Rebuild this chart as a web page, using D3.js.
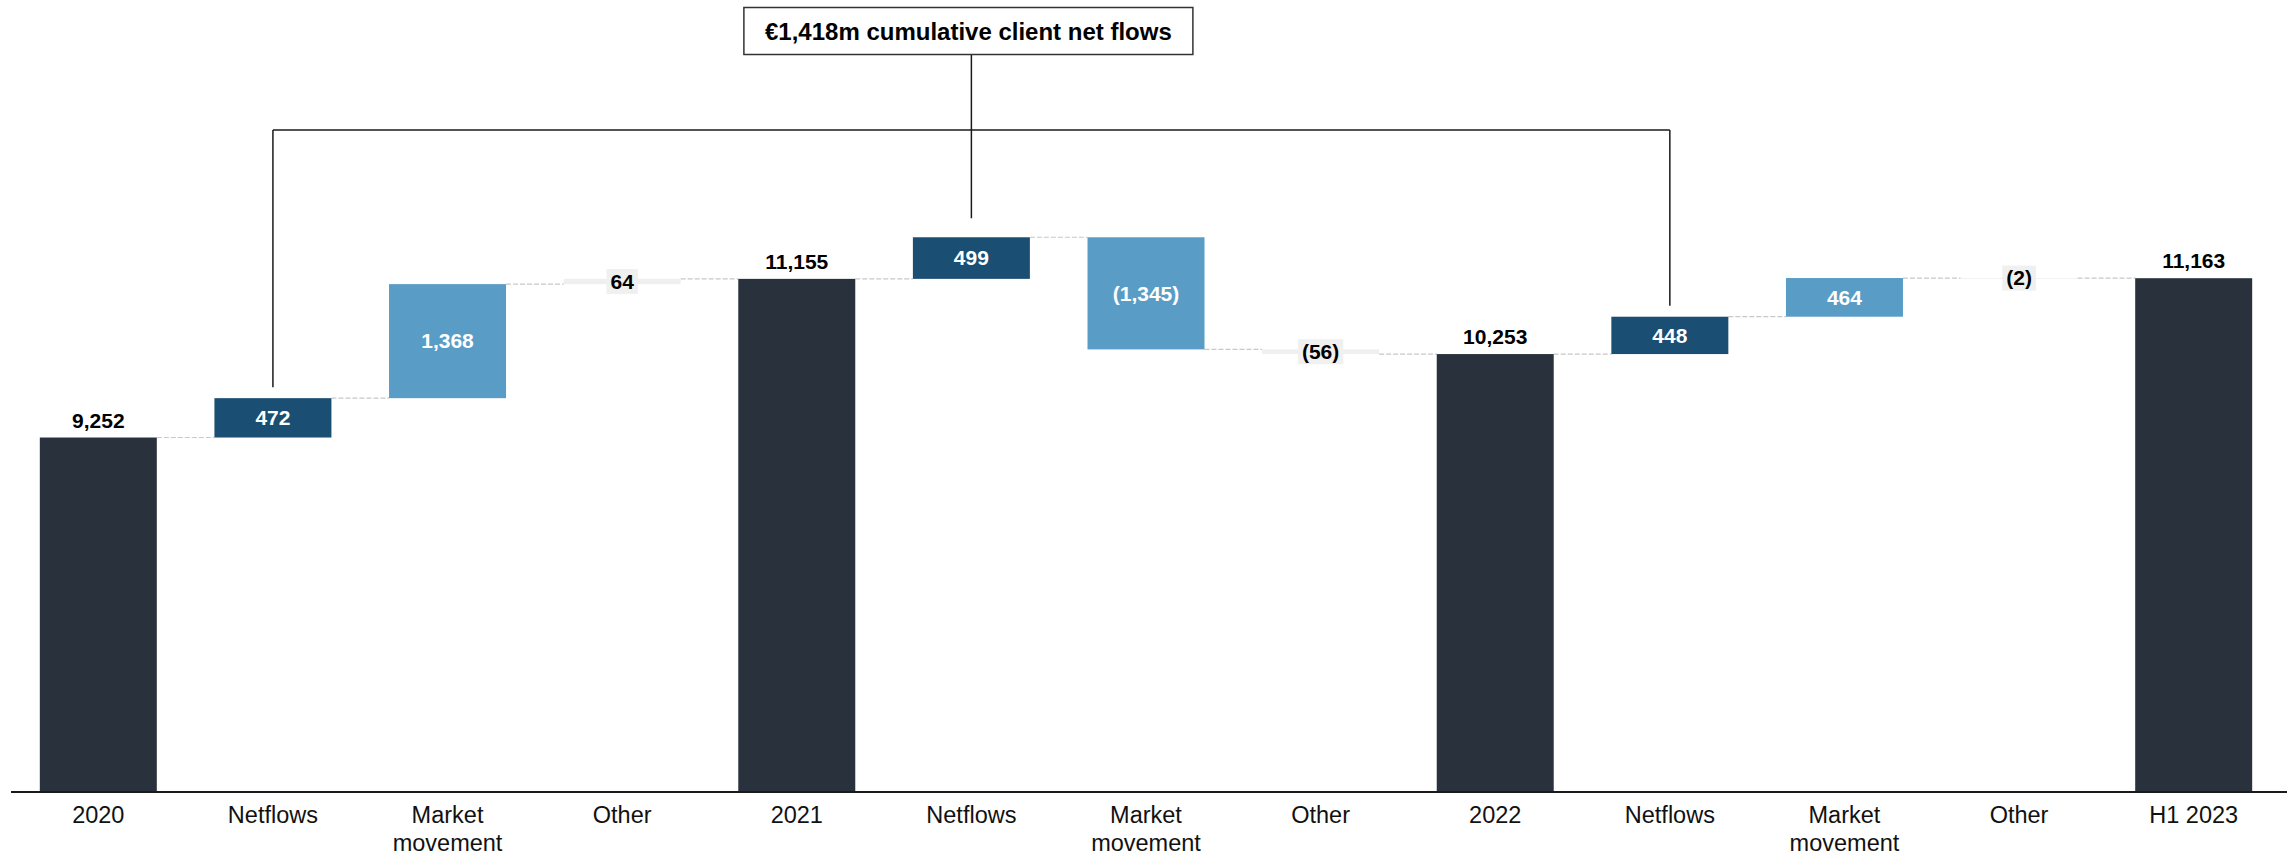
<!DOCTYPE html>
<html>
<head>
<meta charset="utf-8">
<script src="https://cdn.jsdelivr.net/npm/d3@7"></script>
<style>
  html, body { margin: 0; padding: 0; background: #fff; }
  svg { display: block; font-family: "Liberation Sans", Arial, sans-serif; }
</style>
</head>
<body>
<svg id="chart" width="2287" height="856"></svg>
<script>
// ---- data ----
const categories = ["2020", "Netflows", "Market\nmovement", "Other", "2021", "Netflows", "Market\nmovement", "Other", "2022", "Netflows", "Market\nmovement", "Other", "H1 2023"];
const values = [9252, 472, 1368, 64, 11155, 499, -1345, -56, 10253, 448, 464, -2, 11163];
const kinds = ["total", "netflows", "market", "other", "total", "netflows", "market", "other", "total", "netflows", "market", "other", "total"];
const annotationText = "€1,418m cumulative client net flows";
const bracketIndices = [1, 5, 9];

// ---- layout ----
const W = 2287, H = 856;
const baseY = 792;
const colors = { total: "#29323c", netflows: "#1a4e72", market: "#599dc6", other: "#efefef" };

const svg = d3.select("#chart");

const x = d3.scaleBand()
  .domain(d3.range(categories.length))
  .range([11, 2281])
  .paddingInner(0.33)
  .paddingOuter(0.165);

const y = d3.scaleLinear().domain([5000, 14500]).range([baseY, 0]);

// compute waterfall extents
let running = 0;
const bars = values.map((v, i) => {
  let start, end;
  if (kinds[i] === "total") { start = 5000; end = v; running = v; }
  else { start = running; end = running + v; running = end; }
  return { i, v, kind: kinds[i], start, end };
});

const fmt = d3.format(",");
const labelOf = v => v < 0 ? "(" + fmt(-v) + ")" : fmt(v);

// connectors
const conn = svg.append("g");
for (let i = 0; i < bars.length - 1; i++) {
  const lvl = bars[i].end;
  conn.append("line")
    .attr("x1", x(i) + x.bandwidth())
    .attr("x2", x(i + 1))
    .attr("y1", y(lvl)).attr("y2", y(lvl))
    .attr("stroke", "#c8c8c8")
    .attr("stroke-width", 1.2)
    .attr("stroke-dasharray", "5,2");
}

// bars
svg.append("g").selectAll("rect")
  .data(bars).join("rect")
  .attr("x", d => x(d.i))
  .attr("width", x.bandwidth())
  .attr("y", d => y(Math.max(d.start, d.end)))
  .attr("height", d => Math.max(0.8, Math.abs(y(d.start) - y(d.end))))
  .attr("fill", d => colors[d.kind]);

// value labels
const lab = svg.append("g").attr("font-size", 21).attr("font-weight", "bold");
bars.forEach(d => {
  const cx = x(d.i) + x.bandwidth() / 2;
  if (d.kind === "total") {
    lab.append("text").attr("x", cx).attr("y", y(d.end) - 10)
      .attr("text-anchor", "middle").attr("fill", "#000").text(labelOf(d.v));
  } else if (d.kind === "other") {
    const cy = (y(d.start) + y(d.end)) / 2;
    const g = lab.append("g");
    const t = g.append("text").attr("x", cx).attr("y", cy).attr("dy", "0.35em")
      .attr("text-anchor", "middle").attr("fill", "#000").text(labelOf(d.v));
    const tw = t.node().getComputedTextLength();
    g.insert("rect", "text")
      .attr("x", cx - tw / 2 - 4).attr("width", tw + 8)
      .attr("y", cy - 12.5).attr("height", 25)
      .attr("fill", "#f0f0f0");
  } else {
    const cy = (y(d.start) + y(d.end)) / 2;
    lab.append("text").attr("x", cx).attr("y", cy).attr("dy", "0.35em")
      .attr("text-anchor", "middle").attr("fill", "#fff").text(labelOf(d.v));
  }
});

// x axis baseline
svg.append("line").attr("x1", 11).attr("x2", W).attr("y1", baseY).attr("y2", baseY)
  .attr("stroke", "#1a1a1a").attr("stroke-width", 2);

// category labels
const cat = svg.append("g").attr("font-size", 23.5).attr("fill", "#111");
categories.forEach((c, i) => {
  const t = cat.append("text").attr("x", x(i) + x.bandwidth() / 2).attr("y", 823).attr("text-anchor", "middle");
  c.split("\n").forEach((line, k) => {
    t.append("tspan").attr("x", x(i) + x.bandwidth() / 2).attr("dy", k === 0 ? 0 : 28).text(line);
  });
});

// annotation bracket
const bracketY = 130;
const gaps = [11, 19, 11];
const ann = svg.append("g").attr("stroke", "#1a1a1a").attr("stroke-width", 1.5).attr("fill", "none");
const bx = bracketIndices.map(i => x(i) + x.bandwidth() / 2);
ann.append("line").attr("x1", bx[0]).attr("x2", bx[2]).attr("y1", bracketY).attr("y2", bracketY);
bracketIndices.forEach((i, k) => {
  const top = y(Math.max(bars[i].start, bars[i].end)) - gaps[k];
  ann.append("line").attr("x1", bx[k]).attr("x2", bx[k])
    .attr("y1", k === 1 ? 54 : bracketY).attr("y2", top);
});
// box
const boxW = 449, boxH = 47, boxCx = bx[1] - 3;
svg.append("rect").attr("x", boxCx - boxW / 2).attr("y", 7.5).attr("width", boxW).attr("height", boxH)
  .attr("fill", "#fff").attr("stroke", "#333").attr("stroke-width", 1.5);
svg.append("text").attr("x", boxCx).attr("y", 40).attr("text-anchor", "middle")
  .attr("font-size", 24).attr("font-weight", "bold").attr("fill", "#000").text(annotationText);
</script>
</body>
</html>
